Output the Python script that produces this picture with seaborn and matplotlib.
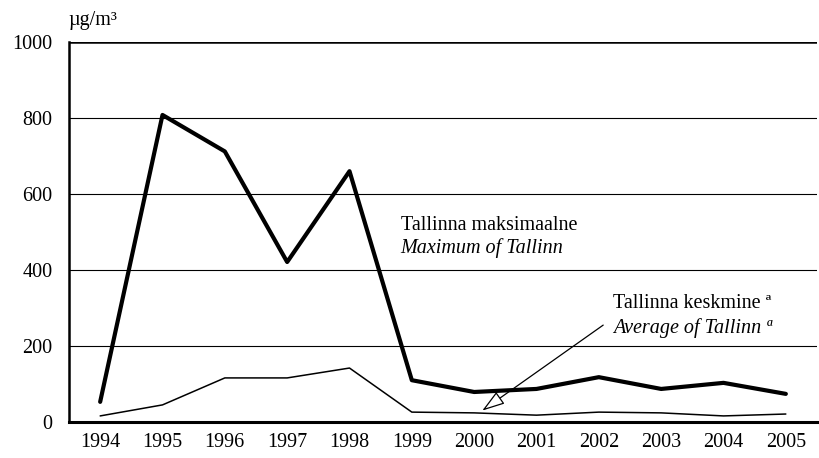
import numpy as np
import pandas as pd
import matplotlib
matplotlib.use('Agg')
import matplotlib.pyplot as plt
import seaborn as sns

years = ["1994", "1995", "1996", "1997", "1998", "1999",
         "2000", "2001", "2002", "2003", "2004", "2005"]
maximum = [53, 808, 712, 421, 660, 110, 79, 87, 118, 87, 103, 74]
average = [16, 45, 116, 116, 142, 26, 24, 18, 26, 24, 16, 21]
y_ticks = [0, 200, 400, 600, 800, 1000]

sns.set_style("white")
plt.rcParams['font.family'] = ['Liberation Serif', 'DejaVu Serif']
plt.rcParams['text.color'] = 'black'
plt.rcParams['xtick.color'] = 'black'
plt.rcParams['ytick.color'] = 'black'
FS = 14.5

df = pd.DataFrame({"pos": np.arange(len(years)), "year": years,
                   "maximum": maximum, "average": average})

fig = plt.figure(figsize=(8.19, 4.58), dpi=100)
ax = fig.add_axes([69 / 819, 1 - 422 / 458, (817 - 69) / 819, 380 / 458])

for v in y_ticks[1:-1]:
    ax.axhline(v, color="black", lw=0.8, zorder=1)
ax.axhline(1000, color="black", lw=1.8, zorder=1)

sns.lineplot(data=df, x="pos", y="maximum", color="black", lw=3.0, ax=ax, zorder=3)
sns.lineplot(data=df, x="pos", y="average", color="black", lw=1.1, ax=ax, zorder=3)

ax.set_xlim(-0.5, len(years) - 0.5)
ax.set_ylim(0, 1000)
ax.set_yticks(y_ticks)
ax.set_yticklabels([str(v) for v in y_ticks], fontsize=FS)
ax.set_xticks(df["pos"])
ax.set_xticklabels(years, fontsize=FS)
ax.set_xticks(np.arange(0.5, len(years) - 0.5), minor=True)
ax.tick_params(axis="x", which="major", length=0, pad=8)
ax.tick_params(axis="x", which="minor", length=6, width=1, direction="in", color="black")
ax.tick_params(axis="y", length=0, pad=12)
ax.set_xlabel("")
ax.set_ylabel("")

for s in ["top", "right"]:
    ax.spines[s].set_visible(False)
ax.spines["left"].set_linewidth(1.8)
ax.spines["bottom"].set_linewidth(2.2)
ax.spines["left"].set_color("black")
ax.spines["bottom"].set_color("black")

fig.text(68 / 819, 1 - 21 / 458, "µg/m³", fontsize=FS, va="center", ha="left")

ax.text(4.82, 518, "Tallinna maksimaalne", fontsize=FS, ha="left", va="center")
ax.text(4.82, 458, "Maximum of Tallinn", fontsize=FS, ha="left", va="center", style="italic")
ax.text(8.23, 313, "Tallinna keskmine ª", fontsize=FS, ha="left", va="center")
ax.text(8.23, 247, "Average of Tallinn ª", fontsize=FS, ha="left", va="center", style="italic")

ax.annotate("", xy=(6.13, 30), xytext=(8.07, 255),
            arrowprops=dict(arrowstyle="-|>,head_length=1.4,head_width=0.45",
                            facecolor="white", edgecolor="black", lw=0.9,
                            shrinkA=0, shrinkB=0), zorder=4)

fig.savefig("out.png", dpi=100)
